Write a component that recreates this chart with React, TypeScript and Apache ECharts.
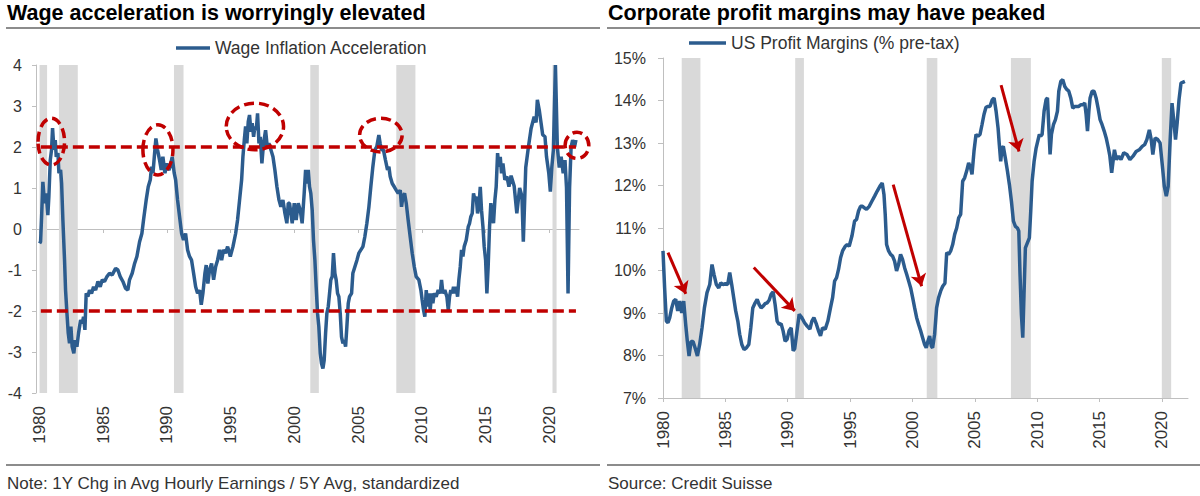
import React, { useEffect, useRef } from "react";
import * as echarts from "echarts";

// ---------- Data ----------
const yearTicks: number[] = [1980, 1985, 1990, 1995, 2000, 2005, 2010, 2015, 2020];

// Wage inflation acceleration (standardized), [year, value]
const wageSeries: [number, number][] = [
  [1980.0, -0.35], [1980.08, -0.31], [1980.16, 0.3], [1980.26, 1.15], [1980.39, 0.63], [1980.52, 0.87], [1980.65, 0.34], [1980.73, 0.79], [1980.84, 1.68], [1980.94, 1.93],
  [1981.02, 2.46], [1981.13, 1.93], [1981.23, 2.17], [1981.31, 1.76], [1981.44, 1.85], [1981.52, 1.36], [1981.65, 1.44], [1981.73, 1.11], [1981.83, 0.22], [1981.96, -0.76],
  [1982.04, -1.49], [1982.15, -2.06], [1982.25, -2.54], [1982.35, -2.79], [1982.46, -2.38], [1982.56, -2.87], [1982.69, -3.03], [1982.8, -2.71], [1982.93, -2.87], [1983.06, -2.54],
  [1983.22, -2.22], [1983.35, -2.3], [1983.45, -2.14], [1983.56, -2.46], [1983.66, -1.57], [1983.79, -1.65], [1983.92, -1.49], [1984.08, -1.57], [1984.24, -1.41], [1984.4, -1.49],
  [1984.58, -1.28], [1984.76, -1.41], [1984.92, -1.24], [1985.1, -1.28], [1985.29, -1.16], [1985.49, -1.08], [1985.7, -1.12], [1985.97, -0.96], [1986.15, -1.0], [1986.33, -1.16],
  [1986.54, -1.28], [1986.75, -1.45], [1986.93, -1.49], [1987.06, -1.24], [1987.27, -1.08], [1987.46, -0.84], [1987.64, -0.67], [1987.85, -0.31], [1988.03, -0.11], [1988.16, 0.22],
  [1988.37, 0.71], [1988.53, 1.03], [1988.69, 1.2], [1988.79, 1.52], [1988.9, 1.36], [1989.03, 1.85], [1989.13, 2.21], [1989.26, 1.93], [1989.42, 1.68], [1989.55, 1.44],
  [1989.68, 1.76], [1989.84, 1.36], [1989.99, 1.6], [1990.15, 1.44], [1990.26, 1.52], [1990.41, 1.76], [1990.57, 1.36], [1990.68, 1.2], [1990.83, 0.71], [1990.99, 0.3],
  [1991.15, -0.11], [1991.3, -0.27], [1991.46, -0.11], [1991.62, -0.51], [1991.77, -0.67], [1991.93, -0.76], [1992.09, -1.08], [1992.25, -1.41], [1992.4, -1.57], [1992.56, -1.49],
  [1992.69, -1.85], [1992.82, -1.57], [1992.98, -1.08], [1993.08, -0.88], [1993.21, -1.33], [1993.34, -1.0], [1993.5, -0.84], [1993.66, -1.24], [1993.82, -0.92], [1993.97, -0.76],
  [1994.13, -0.51], [1994.29, -0.76], [1994.44, -0.51], [1994.6, -0.59], [1994.76, -0.43], [1994.97, -0.67], [1995.18, -0.43], [1995.39, -0.11], [1995.54, 0.22], [1995.7, 0.71],
  [1995.86, 1.2], [1995.96, 1.76], [1996.07, 2.17], [1996.17, 2.5], [1996.27, 2.09], [1996.38, 2.62], [1996.48, 2.78], [1996.59, 2.37], [1996.69, 2.58], [1996.8, 2.25],
  [1996.9, 2.5], [1997.01, 2.41], [1997.11, 2.82], [1997.22, 2.09], [1997.32, 2.25], [1997.45, 1.6], [1997.58, 2.09], [1997.74, 2.41], [1997.87, 2.01], [1998.0, 2.09],
  [1998.16, 1.93], [1998.32, 1.76], [1998.47, 1.44], [1998.63, 1.03], [1998.79, 0.71], [1998.94, 0.54], [1999.1, 0.71], [1999.26, 0.38], [1999.41, 0.14], [1999.52, 0.63],
  [1999.62, 0.63], [1999.83, 0.14], [1999.99, 0.63], [2000.14, 0.22], [2000.3, 0.63], [2000.46, 0.46], [2000.61, 0.14], [2000.77, 0.87], [2000.88, 1.44], [2000.98, 1.11],
  [2001.09, 1.44], [2001.19, 1.03], [2001.29, 0.87], [2001.4, 0.46], [2001.5, -0.27], [2001.61, -0.76], [2001.71, -1.41], [2001.82, -2.06], [2001.92, -2.38], [2002.03, -3.03],
  [2002.13, -3.28], [2002.24, -3.4], [2002.34, -3.2], [2002.45, -2.54], [2002.55, -2.06], [2002.66, -1.89], [2002.76, -1.57], [2002.86, -1.24], [2002.97, -1.16], [2003.07, -0.59],
  [2003.18, -1.08], [2003.28, -1.24], [2003.39, -1.57], [2003.49, -1.65], [2003.6, -2.06], [2003.7, -2.63], [2003.81, -2.79], [2003.91, -2.71], [2004.02, -2.87], [2004.12, -2.38],
  [2004.23, -1.81], [2004.33, -1.65], [2004.49, -1.57], [2004.59, -1.08], [2004.75, -0.92], [2004.91, -0.76], [2005.06, -0.59], [2005.22, -0.51], [2005.38, -0.43], [2005.53, -0.19],
  [2005.69, 0.14], [2005.85, 0.54], [2006.0, 1.03], [2006.16, 1.52], [2006.32, 1.93], [2006.47, 2.01], [2006.63, 2.29], [2006.73, 2.09], [2006.84, 1.93], [2006.99, 1.93],
  [2007.15, 1.68], [2007.31, 1.44], [2007.42, 1.52], [2007.52, 1.28], [2007.68, 1.11], [2007.84, 1.03], [2007.99, 0.95], [2008.15, 0.87], [2008.31, 0.95], [2008.41, 0.54],
  [2008.52, 0.79], [2008.65, 0.87], [2008.78, 0.63], [2008.93, 0.22], [2009.09, -0.19], [2009.25, -0.59], [2009.41, -0.92], [2009.56, -1.16], [2009.77, -1.24], [2009.93, -1.49],
  [2010.03, -1.73], [2010.14, -1.98], [2010.24, -2.14], [2010.35, -1.49], [2010.45, -1.89], [2010.56, -1.57], [2010.66, -1.98], [2010.77, -1.57], [2010.87, -1.81], [2010.98, -1.57],
  [2011.13, -1.65], [2011.29, -1.49], [2011.45, -1.57], [2011.55, -1.24], [2011.66, -1.57], [2011.81, -1.49], [2011.97, -1.65], [2012.08, -1.98], [2012.18, -1.65], [2012.28, -1.49],
  [2012.39, -1.57], [2012.49, -1.41], [2012.6, -1.57], [2012.7, -1.41], [2012.81, -1.65], [2012.91, -1.24], [2013.02, -0.92], [2013.12, -0.51], [2013.23, -0.67], [2013.33, -0.43],
  [2013.49, -0.27], [2013.65, 0.06], [2013.75, 0.14], [2013.85, 0.3], [2013.96, 0.38], [2014.06, 0.87], [2014.17, 0.71], [2014.27, 0.79], [2014.38, 0.38], [2014.48, 0.54],
  [2014.59, 1.03], [2014.69, 0.46], [2014.8, 0.06], [2014.9, -0.43], [2015.01, -0.76], [2015.11, -1.57], [2015.21, -0.92], [2015.32, 0.06], [2015.42, 0.63], [2015.53, 0.3],
  [2015.63, 0.14], [2015.74, 0.71], [2015.84, 1.03], [2015.95, 1.85], [2016.05, 1.52], [2016.16, 1.76], [2016.26, 1.36], [2016.37, 1.6], [2016.52, 1.2], [2016.68, 1.28],
  [2016.84, 1.03], [2017.01, 1.3], [2017.25, 1.05], [2017.46, 0.38], [2017.68, 1.0], [2017.86, 0.8], [2017.97, -0.31], [2018.16, 1.5], [2018.37, 2.0], [2018.58, 2.45],
  [2018.82, 2.74], [2018.97, 2.6], [2019.07, 3.15], [2019.22, 2.9], [2019.37, 2.57], [2019.49, 2.3], [2019.67, 2.25], [2019.79, 1.76], [2019.97, 1.36], [2020.09, 0.91],
  [2020.21, 1.52], [2020.33, 1.93], [2020.49, 4.0], [2020.64, 2.0], [2020.79, 1.5], [2020.94, 1.76], [2021.1, 1.36], [2021.24, 1.68], [2021.36, 1.0], [2021.48, -1.57],
  [2021.6, 1.0], [2021.72, 2.0], [2021.84, 2.17], [2021.99, 2.0], [2022.1, 2.17],
];

// US profit margins (% pre-tax), [year, value]
const marginSeries: [number, number][] = [
  [1980.0, 10.46], [1980.13, 9.59], [1980.27, 8.81], [1980.4, 8.77], [1980.54, 8.89], [1980.7, 9.12], [1980.86, 9.28], [1981.02, 9.32], [1981.18, 9.05], [1981.34, 9.28],
  [1981.5, 9.0], [1981.66, 9.28], [1981.82, 8.73], [1981.95, 8.34], [1982.09, 7.99], [1982.25, 8.33], [1982.41, 8.33], [1982.57, 8.18], [1982.76, 7.99], [1982.94, 8.26],
  [1983.13, 8.65], [1983.32, 9.12], [1983.53, 9.48], [1983.75, 9.67], [1983.93, 10.14], [1984.09, 9.91], [1984.28, 9.67], [1984.47, 9.59], [1984.63, 9.71], [1984.82, 9.67],
  [1985.0, 9.69], [1985.19, 9.67], [1985.35, 9.95], [1985.51, 9.67], [1985.67, 9.36], [1985.83, 9.05], [1986.0, 8.81], [1986.15, 8.5], [1986.32, 8.26], [1986.5, 8.14],
  [1986.69, 8.18], [1986.88, 8.26], [1987.04, 8.65], [1987.2, 9.12], [1987.39, 9.24], [1987.55, 9.32], [1987.71, 9.2], [1987.87, 9.12], [1988.03, 9.16], [1988.19, 9.22],
  [1988.35, 9.24], [1988.51, 9.3], [1988.67, 9.44], [1988.83, 9.5], [1988.99, 9.2], [1989.15, 8.81], [1989.31, 8.73], [1989.47, 8.75], [1989.63, 8.58], [1989.79, 8.34],
  [1989.95, 8.38], [1990.11, 8.58], [1990.28, 8.65], [1990.44, 8.11], [1990.56, 8.16], [1990.71, 8.5], [1990.92, 8.97], [1991.13, 8.89], [1991.35, 8.77], [1991.56, 8.69],
  [1991.78, 8.62], [1991.94, 8.81], [1992.1, 8.89], [1992.31, 8.73], [1992.47, 8.58], [1992.63, 8.46], [1992.79, 8.65], [1993.01, 8.62], [1993.22, 8.81], [1993.43, 9.12],
  [1993.6, 9.36], [1993.76, 9.75], [1993.92, 9.83], [1994.08, 10.03], [1994.24, 10.3], [1994.4, 10.46], [1994.61, 10.57], [1994.77, 10.61], [1994.93, 10.57], [1995.15, 10.81],
  [1995.36, 11.16], [1995.52, 11.2], [1995.68, 11.4], [1995.84, 11.51], [1996.0, 11.51], [1996.16, 11.47], [1996.32, 11.44], [1996.54, 11.51], [1996.75, 11.63], [1996.97, 11.75],
  [1997.18, 11.87], [1997.39, 11.98], [1997.58, 12.06], [1997.72, 11.79], [1997.82, 11.32], [1997.93, 10.61], [1998.09, 10.46], [1998.25, 10.38], [1998.41, 10.34], [1998.57, 10.22],
  [1998.73, 9.99], [1998.89, 10.14], [1999.05, 10.38], [1999.21, 10.26], [1999.38, 10.06], [1999.54, 9.91], [1999.7, 9.75], [1999.86, 9.59], [2000.02, 9.36], [2000.18, 9.12],
  [2000.34, 8.89], [2000.5, 8.73], [2000.66, 8.58], [2000.82, 8.42], [2000.98, 8.26], [2001.11, 8.18], [2001.25, 8.34], [2001.38, 8.46], [2001.52, 8.22], [2001.62, 8.18],
  [2001.78, 8.5], [2001.94, 9.12], [2002.1, 9.36], [2002.27, 9.52], [2002.43, 9.63], [2002.61, 9.7], [2002.75, 10.42], [2002.91, 10.38], [2003.07, 10.46], [2003.23, 10.61],
  [2003.39, 10.85], [2003.55, 11.0], [2003.71, 11.24], [2003.87, 11.32], [2004.03, 12.1], [2004.19, 12.18], [2004.35, 12.34], [2004.51, 12.53], [2004.67, 12.41], [2004.78, 12.26],
  [2004.94, 12.81], [2005.1, 13.2], [2005.26, 13.16], [2005.42, 13.2], [2005.58, 13.43], [2005.74, 13.67], [2005.9, 13.84], [2006.06, 13.86], [2006.22, 13.86], [2006.41, 14.02],
  [2006.55, 14.06], [2006.71, 13.75], [2006.87, 13.35], [2006.97, 12.96], [2007.08, 12.57], [2007.19, 12.88], [2007.29, 12.92], [2007.45, 12.65], [2007.62, 12.34], [2007.78, 12.02],
  [2007.94, 11.63], [2008.1, 11.16], [2008.26, 11.04], [2008.42, 11.0], [2008.53, 10.93], [2008.63, 9.91], [2008.74, 8.97], [2008.85, 8.42], [2008.95, 9.44], [2009.06, 10.53],
  [2009.22, 10.65], [2009.38, 10.77], [2009.49, 11.4], [2009.6, 12.1], [2009.76, 12.57], [2009.92, 12.88], [2010.08, 13.08], [2010.18, 13.2], [2010.29, 13.16], [2010.4, 13.2],
  [2010.56, 13.75], [2010.72, 14.02], [2010.83, 14.06], [2010.93, 13.43], [2011.04, 12.73], [2011.15, 13.2], [2011.31, 13.43], [2011.47, 13.55], [2011.63, 13.75], [2011.74, 14.22],
  [2011.9, 14.45], [2012.06, 14.49], [2012.22, 14.33], [2012.38, 14.26], [2012.54, 14.22], [2012.7, 14.06], [2012.86, 13.82], [2013.02, 13.86], [2013.18, 13.86], [2013.34, 13.86],
  [2013.5, 13.9], [2013.66, 13.9], [2013.82, 13.94], [2013.93, 13.67], [2014.04, 13.28], [2014.15, 13.75], [2014.25, 14.06], [2014.41, 14.22], [2014.57, 14.22], [2014.73, 14.06],
  [2014.89, 13.82], [2015.05, 13.55], [2015.21, 13.43], [2015.38, 13.28], [2015.54, 13.12], [2015.7, 12.9], [2015.83, 12.7], [2015.98, 12.3], [2016.2, 12.84], [2016.36, 12.61],
  [2016.54, 12.69], [2016.73, 12.61], [2016.95, 12.77], [2017.2, 12.73], [2017.44, 12.61], [2017.69, 12.69], [2017.94, 12.8], [2018.19, 12.84], [2018.43, 12.92], [2018.62, 12.96],
  [2018.8, 13.08], [2019.0, 13.31], [2019.15, 13.08], [2019.28, 12.73], [2019.46, 13.12], [2019.68, 13.08], [2019.86, 13.0], [2020.05, 12.45], [2020.2, 11.98], [2020.36, 11.75],
  [2020.51, 11.98], [2020.67, 13.08], [2020.82, 13.94], [2020.98, 13.47], [2021.1, 13.08], [2021.23, 13.47], [2021.38, 14.02], [2021.54, 14.41], [2021.85, 14.45],
];

// Recession shading, [start year, end year]
const wageRecessions: [number, number][] = [
  [1980.0, 1980.59], [1981.52, 1983.0], [1990.55, 1991.3], [2001.25, 2001.92], [2008.0, 2009.5], [2020.26, 2020.58],
];
const marginRecessions: [number, number][] = [
  [1981.5, 1983.0], [1990.6, 1991.3], [2001.15, 2002.0], [2007.9, 2009.5], [2020.0, 2020.75],
];

// Threshold lines on the wage chart
const wageBands: number[] = [2, -2];
const wageBandSpan: [number, number] = [1980.1, 2022.1];

// Dashed circles: [center year, center value, half-span years, half-span value]
const wageCircles: [number, number, number, number][] = [
  [1980.92, 2.13, 1.04, 0.57],
  [1989.29, 1.93, 1.18, 0.61],
  [1996.9, 2.5, 2.25, 0.57],
  [2006.79, 2.29, 1.67, 0.41],
  [2022.18, 2.04, 0.93, 0.32],
];

// Red arrows on the margins chart: [[from year, from value], [to year, to value]]
const marginArrows: [[number, number], [number, number]][] = [
  [[1980.4, 10.42], [1981.83, 9.45]],
  [[1987.28, 10.07], [1990.57, 9.05]],
  [[1998.46, 12.02], [2000.74, 9.63]],
  [[2007.11, 14.36], [2008.55, 12.8]],
];

const WAGE_NAME = "Wage Inflation Acceleration";
const MARGIN_NAME = "US Profit Margins (% pre-tax)";

export default function App() {
  const ref = useRef<HTMLDivElement>(null);

  useEffect(() => {
    document.body.style.margin = "0";
    if (!ref.current) return;
    const chart = echarts.init(ref.current, null, { renderer: "svg" });

    const FONT = "'Liberation Sans', Arial, sans-serif";
    const BLUE = "#2c5c8e";
    const RED = "#c00000";
    const BAR = "#d9d9d9";
    const AXIS = "#bfbfbf";
    const TXT = "#333333";
    const RULE = "#8c8c8c";

    const recessionRender = (params: any, api: any) => {
      const cs = params.coordSys;
      const a = api.coord([api.value(0), 0]);
      const b = api.coord([api.value(1), 0]);
      return {
        type: "rect",
        shape: { x: a[0], y: cs.y, width: b[0] - a[0], height: cs.height },
        style: { fill: BAR },
      };
    };

    const ellipseRender = (_params: any, api: any) => {
      const cx = api.value(0);
      const cy = api.value(1);
      const hx = api.value(2);
      const hy = api.value(3);
      const c = api.coord([cx, cy]);
      const r = api.coord([cx + hx, cy + hy]);
      return {
        type: "ellipse",
        shape: { cx: c[0], cy: c[1], rx: Math.abs(r[0] - c[0]), ry: Math.abs(c[1] - r[1]) },
        style: { fill: "none", stroke: RED, lineWidth: 3.5, lineDash: [10, 5] },
      };
    };

    const yearLabel = {
      customValues: yearTicks,
      rotate: 90,
      margin: 13,
      fontSize: 17,
      color: TXT,
      fontFamily: FONT,
      formatter: (v: number) => String(v),
    };

    const option: any = {
      animation: false,
      textStyle: { fontFamily: FONT },
      grid: [
        { left: 36, top: 65, width: 543, height: 328 },
        { left: 663, top: 58, width: 525, height: 340 },
      ],
      legend: [
        {
          data: [WAGE_NAME], left: 176, top: 39, padding: 0, icon: "rect", itemWidth: 34, itemHeight: 3.5,
          selectedMode: false, textStyle: { fontSize: 17.5, color: TXT, fontFamily: FONT },
        },
        {
          data: [MARGIN_NAME], left: 689, top: 34, padding: 0, icon: "rect", itemWidth: 37, itemHeight: 3.5,
          selectedMode: false, textStyle: { fontSize: 17.5, color: TXT, fontFamily: FONT },
        },
      ],
      xAxis: [
        {
          gridIndex: 0, type: "value", min: 1979.72, max: 2022.34, position: "bottom",
          axisLine: { show: false, onZero: false }, axisTick: { show: false }, splitLine: { show: false },
          axisLabel: yearLabel,
        },
        {
          gridIndex: 0, type: "value", min: 1979.72, max: 2022.34, position: "top",
          axisLine: { show: true, onZero: true, lineStyle: { color: AXIS, width: 1 } },
          axisTick: { show: true, inside: true, length: 4, customValues: yearTicks, lineStyle: { color: AXIS } },
          axisLabel: { show: false }, splitLine: { show: false },
        },
        {
          gridIndex: 1, type: "value", min: 1980, max: 2022.1, position: "bottom",
          axisLine: { show: true, onZero: false, lineStyle: { color: AXIS, width: 1 } },
          axisTick: { show: true, length: 4, customValues: yearTicks, lineStyle: { color: AXIS } },
          splitLine: { show: false },
          axisLabel: yearLabel,
        },
      ],
      yAxis: [
        {
          gridIndex: 0, type: "value", min: -4, max: 4, interval: 1,
          axisLine: { show: true, onZero: false, lineStyle: { color: AXIS, width: 1 } },
          axisTick: { show: true, length: 4, lineStyle: { color: AXIS } },
          splitLine: { show: false },
          axisLabel: { fontSize: 16, color: TXT, margin: 14, fontFamily: FONT },
        },
        {
          gridIndex: 1, type: "value", min: 7, max: 15, interval: 1,
          axisLine: { show: true, onZero: false, lineStyle: { color: AXIS, width: 1 } },
          axisTick: { show: true, length: 5, lineStyle: { color: AXIS } },
          splitLine: { show: false },
          axisLabel: { fontSize: 16, color: TXT, margin: 17, fontFamily: FONT, formatter: "{value}%" },
        },
      ],
      series: [
        {
          type: "custom", name: "wageRecessions", xAxisIndex: 0, yAxisIndex: 0, z: 1, silent: true,
          renderItem: recessionRender, data: wageRecessions,
        },
        {
          type: "line", name: WAGE_NAME, xAxisIndex: 0, yAxisIndex: 0, z: 3, data: wageSeries,
          showSymbol: false, symbol: "none", silent: true,
          lineStyle: { color: BLUE, width: 3.5 }, itemStyle: { color: BLUE },
        },
        {
          type: "line", name: "wageBands", xAxisIndex: 0, yAxisIndex: 0, z: 4, data: [], silent: true,
          markLine: {
            silent: true, symbol: ["none", "none"], label: { show: false },
            lineStyle: { color: RED, width: 3.5, type: [11, 5] },
            data: wageBands.map((v) => [{ coord: [wageBandSpan[0], v] }, { coord: [wageBandSpan[1], v] }]),
          },
        },
        {
          type: "custom", name: "wageCircles", xAxisIndex: 0, yAxisIndex: 0, z: 5, silent: true, clip: false,
          renderItem: ellipseRender, data: wageCircles,
        },
        {
          type: "custom", name: "marginRecessions", xAxisIndex: 2, yAxisIndex: 1, z: 1, silent: true,
          renderItem: recessionRender, data: marginRecessions,
        },
        {
          type: "line", name: MARGIN_NAME, xAxisIndex: 2, yAxisIndex: 1, z: 3, data: marginSeries,
          showSymbol: false, symbol: "none", silent: true,
          lineStyle: { color: BLUE, width: 3.5 }, itemStyle: { color: BLUE },
        },
        {
          type: "line", name: "marginArrows", xAxisIndex: 2, yAxisIndex: 1, z: 5, data: [], silent: true,
          markLine: {
            silent: true, symbol: ["none", "arrow"], symbolSize: 12, label: { show: false },
            lineStyle: { color: RED, width: 3, type: "solid" }, itemStyle: { color: RED },
            data: marginArrows.map(([a, b]) => [{ coord: a }, { coord: b }]),
          },
        },
      ],
      graphic: [
        {
          type: "text", left: 7, top: 2,
          style: { text: "Wage acceleration is worryingly elevated", fontSize: 21.5, fontWeight: "bold", fontFamily: FONT, fill: "#000" },
        },
        {
          type: "text", left: 608, top: 2,
          style: { text: "Corporate profit margins may have peaked", fontSize: 21.5, fontWeight: "bold", fontFamily: FONT, fill: "#000" },
        },
        { type: "line", shape: { x1: 6, y1: 28, x2: 600, y2: 28 }, style: { stroke: RULE, lineWidth: 2 } },
        { type: "line", shape: { x1: 607, y1: 28, x2: 1200, y2: 28 }, style: { stroke: RULE, lineWidth: 2 } },
        { type: "line", shape: { x1: 6, y1: 465, x2: 600, y2: 465 }, style: { stroke: RULE, lineWidth: 2 } },
        { type: "line", shape: { x1: 607, y1: 465, x2: 1200, y2: 465 }, style: { stroke: RULE, lineWidth: 2 } },
        {
          type: "text", left: 7, top: 475,
          style: { text: "Note: 1Y Chg in Avg Hourly Earnings / 5Y Avg, standardized", fontSize: 17, fontFamily: FONT, fill: TXT },
        },
        {
          type: "text", left: 608, top: 475,
          style: { text: "Source: Credit Suisse", fontSize: 17, fontFamily: FONT, fill: TXT },
        },
      ],
    };

    chart.setOption(option);
    return () => chart.dispose();
  }, []);

  return <div ref={ref} style={{ width: 1200, height: 496 }} />;
}
